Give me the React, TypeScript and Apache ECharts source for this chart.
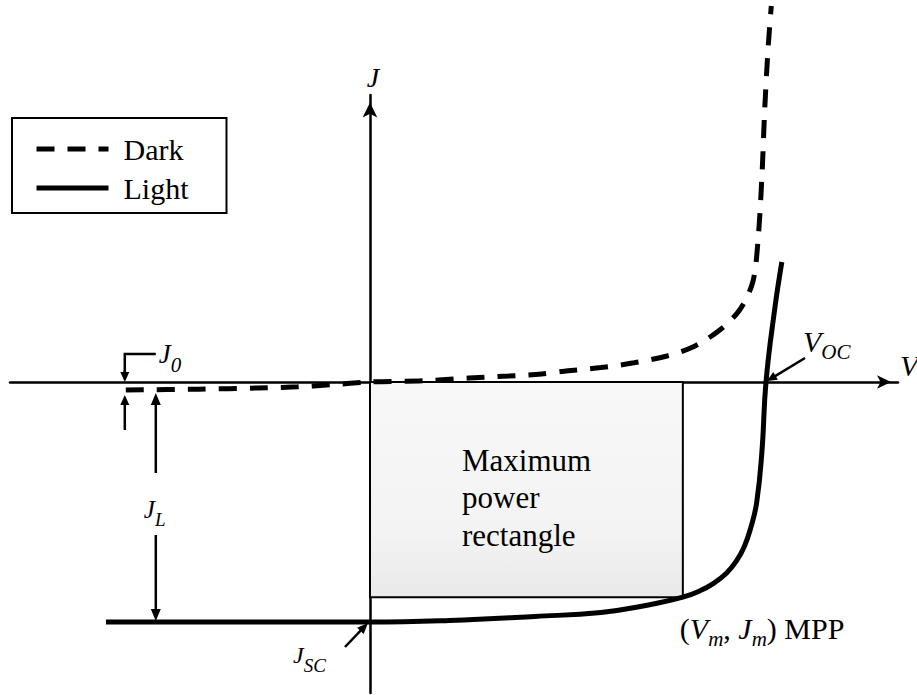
import React, { useEffect, useRef } from "react";
import * as echarts from "echarts";

// Current density J (mA/cm²) versus voltage V (V) of a solar cell
const seriesNames = ["Dark", "Light"];

// Dark characteristic (diode curve through the origin, saturating at -J0)
const darkV = [-0.37, -0.26, -0.17, -0.11, -0.06, 0, 0.08, 0.15, 0.21, 0.26, 0.3, 0.35, 0.4, 0.45, 0.49, 0.53, 0.56, 0.58, 0.588, 0.594, 0.598, 0.603, 0.608];
const darkJ = [-1.0, -0.9, -0.75, -0.6, -0.35, 0, 0.15, 0.5, 0.75, 1.0, 1.4, 1.8, 2.4, 3.25, 4.4, 6.5, 9.0, 12.5, 17.8, 26, 34, 41.5, 47];

// Illuminated characteristic (shifted down by the photocurrent JL)
const lightV = [-0.4, 0, 0.12, 0.25, 0.35, 0.42, 0.474, 0.5, 0.52, 0.54, 0.555, 0.567, 0.577, 0.586, 0.594, 0.6, 0.613, 0.624];
const lightJ = [-30, -30, -29.8, -29.3, -28.8, -27.9, -26.9, -26.1, -25.2, -23.9, -22.4, -20.6, -18.2, -15, -8.5, 0, 9, 15];

// Characteristic points
const mppV = 0.474;
const mppJ = -26.9;
const vocV = 0.6;
const jscJ = -30;
const j0J = -1.0;

const rectLines = ["Maximum", "power", "rectangle"];

const SERIF = "Liberation Serif, Times New Roman, Times, serif";

const measureCtx = document.createElement("canvas").getContext("2d");
function textWidth(t: string, size: number, italic: boolean) {
  if (!measureCtx) return t.length * size * 0.5;
  measureCtx.font = `${italic ? "italic " : ""}${size}px ${SERIF}`;
  return measureCtx.measureText(t).width;
}

type Part = { t: string; size: number; italic?: boolean; dy?: number };

function textEl(t: string, x: number, y: number, size: number, italic: boolean, align = "left") {
  return {
    type: "text",
    x,
    y,
    silent: true,
    z: 100,
    style: {
      text: t,
      fill: "#000",
      fontFamily: SERIF,
      fontSize: size,
      fontStyle: italic ? "italic" : "normal",
      textAlign: align,
      textVerticalAlign: "middle",
      align,
      verticalAlign: "middle",
    },
  };
}

// Text made of pieces (main letter + subscript); y is the middle of the main letters
function composite(x: number, y: number, parts: Part[]) {
  const out: any[] = [];
  let cx = x;
  for (const p of parts) {
    out.push(textEl(p.t, cx, y + (p.dy || 0), p.size, !!p.italic));
    cx += textWidth(p.t, p.size, !!p.italic);
  }
  return out;
}

function arrow(x1: number, y1: number, x2: number, y2: number, width: number, headLen: number, headW: number) {
  const dx = x2 - x1;
  const dy = y2 - y1;
  const len = Math.sqrt(dx * dx + dy * dy);
  const ux = dx / len;
  const uy = dy / len;
  const bx = x2 - ux * headLen;
  const by = y2 - uy * headLen;
  const nx = -uy;
  const ny = ux;
  return [
    {
      type: "line",
      silent: true,
      z: 100,
      shape: { x1, y1, x2: bx + ux * 1, y2: by + uy * 1 },
      style: { stroke: "#000", lineWidth: width },
    },
    {
      type: "polygon",
      silent: true,
      z: 100,
      shape: {
        points: [
          [x2, y2],
          [bx + nx * headW / 2, by + ny * headW / 2],
          [bx - nx * headW / 2, by - ny * headW / 2],
        ],
      },
      style: { fill: "#000" },
    },
  ];
}

function toPairs(xs: number[], ys: number[]) {
  return xs.map((x, i) => [x, ys[i]]);
}

export default function App() {
  const ref = useRef<HTMLDivElement>(null);

  useEffect(() => {
    if (!ref.current) return;
    const chart = echarts.init(ref.current, undefined, { renderer: "svg" });

    const option: any = {
      animation: false,
      backgroundColor: "#fff",
      textStyle: { fontFamily: SERIF },
      grid: { left: 10, right: 19, top: 95, bottom: 2, containLabel: false },
      xAxis: {
        type: "value",
        min: -0.54545,
        max: 0.8,
        axisLine: {
          onZero: true,
          symbol: ["none", "arrow"],
          symbolSize: [10, 14],
          symbolOffset: [0, -7],
          lineStyle: { color: "#000", width: 2.5 },
        },
        axisTick: { show: false },
        axisLabel: { show: false },
        splitLine: { show: false },
      },
      yAxis: {
        type: "value",
        min: -38.875,
        max: 35.875,
        axisLine: {
          onZero: true,
          symbol: ["none", "arrow"],
          symbolSize: [11, 15],
          symbolOffset: [0, -7.5],
          lineStyle: { color: "#000", width: 2.5 },
        },
        axisTick: { show: false },
        axisLabel: { show: false },
        splitLine: { show: false },
      },
      legend: {
        data: seriesNames,
        orient: "vertical",
        left: 12,
        top: 118,
        itemWidth: 72,
        itemHeight: 14,
        itemGap: 9,
        padding: [16, 38, 10, 22],
        borderColor: "#000",
        borderWidth: 2,
        backgroundColor: "#fff",
        selectedMode: false,
        itemStyle: { opacity: 0 },
        lineStyle: { width: 5 },
        textStyle: { fontFamily: SERIF, fontSize: 30, color: "#000", padding: [0, 0, 0, 10] },
      },
      series: [
        {
          name: seriesNames[0],
          type: "line",
          data: toPairs(darkV, darkJ),
          symbol: "none",
          smooth: 0.3,
          clip: false,
          z: 5,
          lineStyle: { color: "#000", width: 5, type: [18, 13], cap: "butt" },
          itemStyle: { color: "#000" },
        },
        {
          name: seriesNames[1],
          type: "line",
          data: toPairs(lightV, lightJ),
          symbol: "none",
          smooth: 0.45,
          clip: false,
          z: 5,
          lineStyle: { color: "#000", width: 5 },
          itemStyle: { color: "#000" },
          markArea: {
            silent: true,
            z: 1,
            itemStyle: {
              color: {
                type: "linear",
                x: 0,
                y: 0,
                x2: 0,
                y2: 1,
                colorStops: [
                  { offset: 0, color: "#f8f8f8" },
                  { offset: 0.7, color: "#f3f3f3" },
                  { offset: 1, color: "#e9e9e9" },
                ],
              },
              borderColor: "#000",
              borderWidth: 2,
            },
            label: { show: false },
            data: [[{ coord: [0, 0] }, { coord: [mppV, mppJ] }]],
          },
        },
      ],
    };
    chart.setOption(option);

    const px = (v: number, j: number) => chart.convertToPixel({ gridIndex: 0 }, [v, j]) as number[];

    const origin = px(0, 0);
    const axisTop = px(0, 35.875);
    const axisEnd = px(0.8, 0);
    const voc = px(vocV, 0);
    const jsc = px(0, jscJ);
    const mpp = px(mppV, mppJ);
    const yJ0 = px(0, j0J)[1];
    const xBr = px(darkV[0], 0)[0] - 1;
    const xJL = xBr + 31;

    const g: any[] = [];

    // axis names
    g.push(textEl("J", axisTop[0] + 3, axisTop[1] - 18, 28, true, "center"));
    g.push(textEl("V", axisEnd[0] + 2, axisEnd[1] - 17, 30, true, "left"));

    // V_OC with pointer
    g.push(...composite(voc[0] + 37, voc[1] - 41, [
      { t: "V", size: 30, italic: true },
      { t: "OC", size: 21, italic: true, dy: 11 },
    ]));
    g.push(...arrow(voc[0] + 39, voc[1] - 24, voc[0] + 1, voc[1] - 1, 2.5, 10, 9));

    // J0 bracket
    g.push({
      type: "polyline",
      silent: true,
      z: 100,
      shape: { points: [[xJL, origin[1] - 28], [xBr, origin[1] - 28], [xBr, origin[1] - 10]] },
      style: { stroke: "#000", lineWidth: 2.5, fill: "none" },
    });
    g.push(...arrow(xBr, origin[1] - 12, xBr, origin[1], 2.5, 10, 9));
    g.push(...arrow(xBr, origin[1] + 48, xBr, yJ0 + 5, 2.5, 10, 9));
    g.push(...composite(xBr + 34, origin[1] - 28, [
      { t: "J", size: 27, italic: true },
      { t: "0", size: 21, italic: true, dy: 11 },
    ]));

    // JL double arrow
    const yMid = (yJ0 + jsc[1]) / 2;
    g.push(...arrow(xJL, yMid - 33, xJL, yJ0 + 3, 2.5, 12, 10));
    g.push(...arrow(xJL, yMid + 29, xJL, jsc[1] - 1, 2.5, 12, 10));
    g.push(...composite(xJL - 12, yMid + 3, [
      { t: "J", size: 25, italic: true },
      { t: "L", size: 19, italic: true, dy: 10 },
    ]));

    // JSC with pointer
    g.push(...composite(jsc[0] - 77, jsc[1] + 33, [
      { t: "J", size: 24, italic: true },
      { t: "SC", size: 19, italic: true, dy: 10 },
    ]));
    g.push(...arrow(jsc[0] - 25, jsc[1] + 25, jsc[0] - 2, jsc[1] + 1, 2.5, 11, 9));

    // Maximum power rectangle caption
    g.push({
      type: "text",
      x: origin[0] + 92,
      y: origin[1] + 59.5,
      silent: true,
      z: 100,
      style: {
        text: rectLines.join("\n"),
        fill: "#000",
        fontFamily: SERIF,
        fontSize: 31,
        lineHeight: 37.5,
        textAlign: "left",
        textVerticalAlign: "top",
        align: "left",
        verticalAlign: "top",
      },
    });

    // MPP caption
    g.push(...composite(mpp[0] - 3, mpp[1] + 31, [
      { t: "(", size: 30 },
      { t: "V", size: 30, italic: true },
      { t: "m", size: 21, italic: true, dy: 11 },
      { t: ", ", size: 30 },
      { t: "J", size: 30, italic: true },
      { t: "m", size: 21, italic: true, dy: 11 },
      { t: ") MPP", size: 30 },
    ]));

    chart.setOption({ graphic: { elements: g } });

    return () => chart.dispose();
  }, []);

  return (
    <div
      ref={ref}
      style={{ position: "fixed", left: 0, top: 0, width: 917, height: 695, background: "#fff" }}
    />
  );
}
